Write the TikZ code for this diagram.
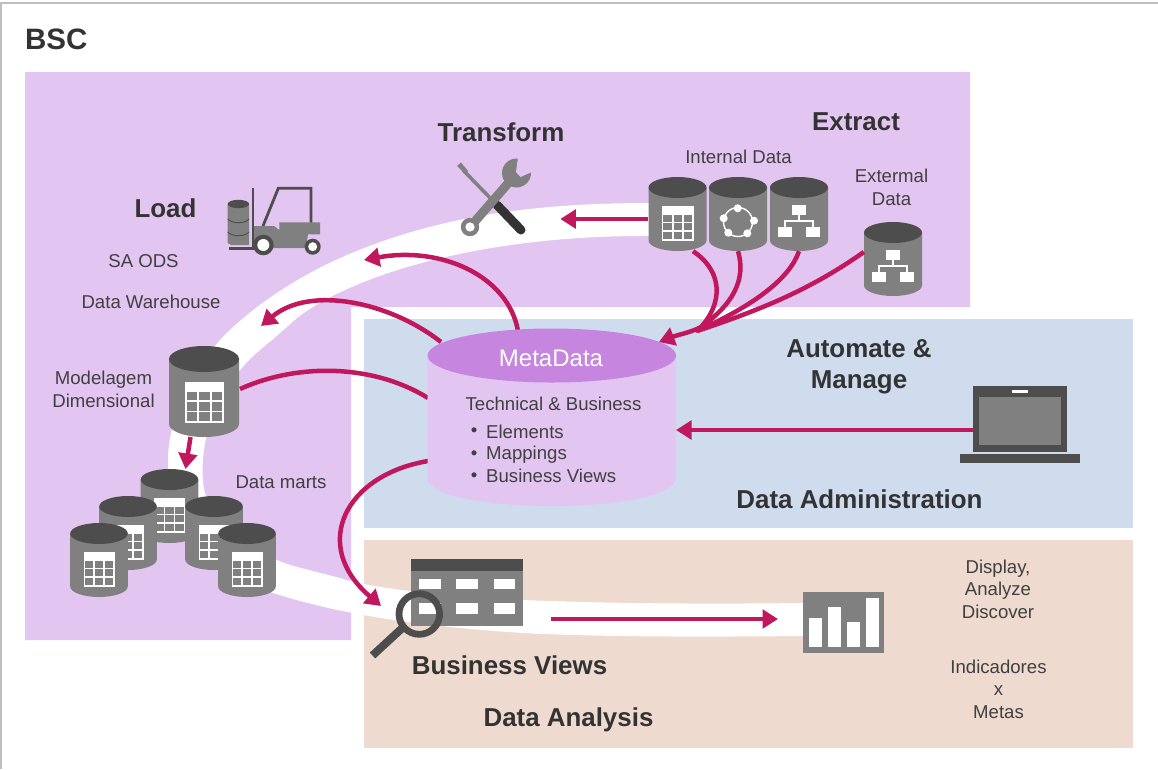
\documentclass[tikz,border=0pt]{standalone}
\usepackage{fontspec}
\setmainfont{Liberation Sans}
\usetikzlibrary{arrows.meta,shapes.geometric}
\definecolor{lila}{HTML}{E2C5F0}
\definecolor{lilad}{HTML}{C685DF}
\definecolor{azul}{HTML}{CEDCEE}
\definecolor{bege}{HTML}{EEDACF}
\definecolor{cinza}{HTML}{808080}
\definecolor{escuro}{HTML}{4D4D4D}
\definecolor{seta}{HTML}{C0175D}
\definecolor{tit}{HTML}{333333}
\definecolor{txt}{HTML}{404040}
\tikzset{
  conn/.style={draw=seta,line width=4.5pt},
  arr/.style={conn,-{Triangle[length=15.5pt,width=18.5pt]}},
  bold/.style={font=\fontsize{25.9}{31}\selectfont\bfseries,text=tit,inner sep=0pt,align=center},
  reg/.style={font=\fontsize{18.6}{22.6}\selectfont,text=txt,inner sep=0pt,align=center},
  meta text/.style={font=\fontsize{18.6}{22}\selectfont,text=txt,inner sep=0pt},
}
% cylinder: cx, top, half-width, ry, bottom(lowest y), name
\newcommand{\dbbody}[6]{%
  \node[inner sep=0pt,minimum width=#3*2pt,minimum height=#5pt-#2pt] (#6) at (#1,{(#2+#5)/2}) {};
  \fill[cinza] (#1-#3,#2+#4) -- (#1-#3,#5-#4)
     .. controls (#1-#3,#5-#4*.45) and (#1-#3*.55,#5) .. (#1,#5)
     .. controls (#1+#3*.55,#5) and (#1+#3,#5-#4*.45) .. (#1+#3,#5-#4)
     -- (#1+#3,#2+#4) -- cycle;
  \fill[escuro] (#1,#2+#4) ellipse [x radius=#3,y radius=#4];
}
% table icon: left, top, width, height
\newcommand{\tableicon}[4]{%
  \fill[white] (#1,#2) rectangle (#1+#3,#2+#4);
  \foreach \ci in {0,1,2}{\foreach \cj in {0,1,2}{
    \fill[cinza] ({#1+#3*(0.045+\ci*0.32)},{#2+#4*(0.25+\cj*0.245)}) rectangle ++({#3*0.27},{#4*0.2});
  }}
}
% hierarchy icon: cx, top
\newcommand{\hieicon}[2]{%
  \draw[white,line width=1.2pt] (#1,#2+32) -- (#1,#2+44) (#1-14,#2+50) -- (#1-14,#2+44) -- (#1+14,#2+44) -- (#1+14,#2+50);
  \fill[white] (#1-7,#2+28) rectangle (#1+7,#2+38);
  \fill[white] (#1-21,#2+50) rectangle (#1-7,#2+60);
  \fill[white] (#1+7,#2+50) rectangle (#1+21,#2+60);
}
\begin{document}
\begin{tikzpicture}[x=1pt,y=-1pt]
\useasboundingbox (0,0) rectangle (1158,769);
\fill[white] (0,0) rectangle (1158,769);
\draw[black!25,line width=2pt] (1,769) -- (1,3) -- (1158,3);
% regions
\fill[lila] (25,72) -- (970,72) -- (970,307) -- (351,307) -- (351,640) -- (25,640) -- cycle;
\fill[azul] (364,319) rectangle (1133,528);
\fill[bege] (364,540) rectangle (1133,748);
% white swoosh
\fill[white] (650,203) .. controls (540,203) and (450,215) .. (367,247)
  .. controls (300,272) and (248,310) .. (220,340)
  .. controls (190,375) and (168,420) .. (168,460)
  .. controls (168,530) and (225,580) .. (273,593)
  .. controls (330,611) and (400,625) .. (523,633)
  .. controls (600,637) and (700,637) .. (803,636)
  -- (803,603)
  .. controls (720,604) and (620,604) .. (523,600)
  .. controls (440,596) and (370,588) .. (340,578)
  .. controls (310,570) and (290,566) .. (277,560)
  .. controls (235,540) and (203,510) .. (203,480)
  .. controls (200,440) and (215,400) .. (240,370)
  .. controls (250,358) and (262,348) .. (272,340)
  .. controls (280,333) and (288,326) .. (297,318)
  .. controls (345,280) and (470,235) .. (650,236) -- cycle;
% connectors under the cylinders
\draw[arr] (518,331) .. controls (508,275) and (440,246) .. (364,260);
\draw[arr] (441,342) .. controls (390,302) and (310,285) .. (261,326);
\draw[conn] (428,398) .. controls (375,365) and (300,362) .. (240,389);
\draw[arr] (428,461) .. controls (345,475) and (310,545) .. (381,606);
% metadata cylinder
\fill[lila] (427.5,356) -- (427.5,478) .. controls (427.5,495) and (483,506) .. (552,506)
  .. controls (621,506) and (676,495) .. (676,478) -- (676,356) -- cycle;
\node[fill=lilad,draw=none,ellipse,minimum width=248.5pt,minimum height=54pt,inner sep=0pt] (meta) at (551.8,355.5) {};
\node[font=\fontsize{24}{28}\selectfont,text=white,inner sep=0pt] (metalabel) at (551,358) {MetaData};
\node[meta text] (techbus) at (553.5,404) {Technical \& Business};
\node[meta text,anchor=west] (el1) at (486,431.5) {Elements};
\node[meta text,anchor=west] (el2) at (486,455) {Mappings};
\node[meta text,anchor=west] (el3) at (486,475.5) {Business Views};
\node[meta text] (b1) at (474,432.5) {•};
\node[meta text] (b2) at (474,455.5) {•};
\node[meta text] (b3) at (474,477.5) {•};
% data marts
\dbbody{169.5}{469}{28.8}{10.5}{543}{dm1}
\tableicon{154}{498}{31}{35}
\dbbody{128}{496}{28.8}{10.5}{570}{dm2}
\tableicon{112.5}{525}{31}{35}
\dbbody{214}{496}{28.8}{10.5}{570}{dm3}
\tableicon{198.5}{525}{31}{35}
\dbbody{99}{523}{28.8}{10.5}{597}{dm4}
\tableicon{83.5}{552}{31}{35}
\dbbody{247}{523}{28.8}{10.5}{597}{dm5}
\tableicon{231.5}{552}{31}{35}
% modelagem
\dbbody{204}{346}{35}{13}{437}{mod}
\tableicon{185}{382}{39}{41}
% internal / external
\dbbody{677.5}{177}{29}{10.5}{251}{int1}
\tableicon{662}{206}{31.5}{35}
\dbbody{738}{177}{29}{10.5}{251}{int2}
\draw[white,line width=1.4pt] (738,222) circle [radius=14.5];
\foreach \px/\py in {737.7/208.3,754/220.7,747.3/233.3,728.3/232.7,723.7/218.3}
  \fill[white] (\px,\py) circle [radius=4];
\dbbody{799}{177}{29}{10.5}{251}{int3}
\hieicon{799}{177}
\dbbody{893}{222}{29}{10.5}{296}{ext}
\hieicon{893}{222}
% laptop
\fill[escuro] (973.3,385.7) rectangle (1067,451.7);
\fill[cinza] (979.3,396.7) rectangle (1060.7,445);
\fill[white] (1012,390) rectangle (1028,393.3);
\fill[escuro] (960.3,454) rectangle (1080,462.7);
\node[inner sep=0pt,minimum width=94pt,minimum height=66pt] (laptop) at (1020.2,418.7) {};
% business view icon
\node[fill=cinza,inner sep=0pt,minimum width=112pt,minimum height=66.4pt] (bv) at (467.3,592.5) {};
\fill[escuro] (411.3,559.3) rectangle (523.3,570.7);
\foreach \cx in {419.3,456.3,493.7}{
  \fill[white] (\cx,578.7) rectangle ++(21.6,10.3);
  \fill[white] (\cx,603.3) rectangle ++(21.6,10.4);
}
\draw[escuro,line width=6.8pt] (419.3,614) circle [radius=20.3];
\draw[escuro,line width=8pt] (402,628.3) -- (372.5,655.5);
% chart
\node[fill=cinza,inner sep=0pt,minimum width=81.3pt,minimum height=60.7pt] (chart) at (843.6,622.3) {};
\fill[white] (809,618.3) rectangle (822,646.7);
\fill[white] (828,607.3) rectangle (841,646.7);
\fill[white] (846.7,622.3) rectangle (860,646.7);
\fill[white] (865.7,598.3) rectangle (879,646.7);
% forklift
\fill[cinza] (227.7,204) -- (227.7,243) -- (231,245) -- (249,245) -- (249,204) -- cycle;
\fill[escuro] (238.4,204) ellipse [x radius=10.7,y radius=4.2];
\draw[escuro,line width=.9pt] (227.7,219) .. controls (232,224) and (245,224) .. (249,219);
\draw[escuro,line width=.9pt] (227.7,232) .. controls (232,237) and (245,237) .. (249,232);
\fill[escuro] (251.5,188) rectangle (254.2,249);
\fill[escuro] (229.3,247) rectangle (256,250);
\draw[escuro,line width=2.8pt] (263,226) -- (278.3,188.3) -- (311,188.3) -- (311,224);
\fill[cinza] (254,226) -- (274,226) -- (279.3,230) -- (279.3,222.3) -- (320,222.3) -- (320,234.3) -- (308,234.3) -- (306,248) -- (254,248) -- cycle;
\fill[escuro] (263.3,245) circle [radius=10.3];
\fill[white] (263.3,245) circle [radius=6];
\fill[escuro] (312.7,246.7) circle [radius=8];
\fill[white] (312.7,246.7) circle [radius=4.5];
% tools
\draw[cinza,line width=3.5pt] (463,170) -- (497,205);
\fill[cinza] (457,166) -- (461,162.5) -- (468,171) -- (465,174) -- cycle;
\draw[tit,line width=9pt,line cap=round] (497,205) -- (521,230);
\draw[cinza,line width=9pt] (470,227) -- (511,180);
\fill[cinza] (470,227) circle [radius=9.2];
\fill[white] (470,227) circle [radius=4.6];
\fill[cinza] (516.5,173) circle [radius=14.5];
\fill[lila] (518,157) -- (516,172) -- (520.5,177) -- (534,171) -- (536,155) -- cycle;
% connectors
\draw[arr] (int1.west |- 0,219) -- ++(-88,0);
\draw[conn] (int1.south -| 693,0) .. controls (716,266) and (728,295) .. (702,326);
\draw[conn] (int2.south) .. controls (746,278) and (735,305) .. (695,331);
\draw[conn] (int3.south) .. controls (790,278) and (755,305) .. (697,331);
\draw[conn] (ext.west |- 0,252) .. controls (810,290) and (760,310) .. (697,331);
\draw[arr] (710,322) .. controls (695,332) and (680,334) .. (659,342);
\draw[arr] (190.5,437) -- (185.5,469);
\draw[arr] (551,619) -- (778,619);
\draw[arr] (laptop.west |- 0,430) -- (676,430);
% labels
\node[font=\fontsize{29.5}{34}\selectfont\bfseries,text=tit,inner sep=0pt,anchor=west] (bsc) at (25,39.5) {BSC};
\node[bold] (transform) at (501,132) {Transform};
\node[bold] (extract) at (856,122) {Extract};
\node[bold] (load) at (165.5,208) {Load};
\node[reg] (internal) at (738.5,157) {Internal Data};
\node[reg] (external) at (891.5,187.5) {Extermal\\Data};
\node[reg] (sa) at (143.5,261) {SA ODS};
\node[reg] (dw) at (151,302) {Data Warehouse};
\node[reg] (modlab) at (103.5,389.5) {Modelagem\\Dimensional};
\node[reg] (marts) at (281,482) {Data marts};
\node[bold] (auto) at (859,366.5) {Automate \&\\Manage};
\node[bold] (admin) at (859.5,499) {Data Administration};
\node[bold] (views) at (509.5,665) {Business Views};
\node[bold] (analysis) at (568.5,719.5) {Data Analysis};
\node[reg] (disp) at (998,589) {Display,\\Analyze\\Discover};
\node[reg] (ind) at (998.5,689) {Indicadores\\x\\Metas};
\end{tikzpicture}
\end{document}
